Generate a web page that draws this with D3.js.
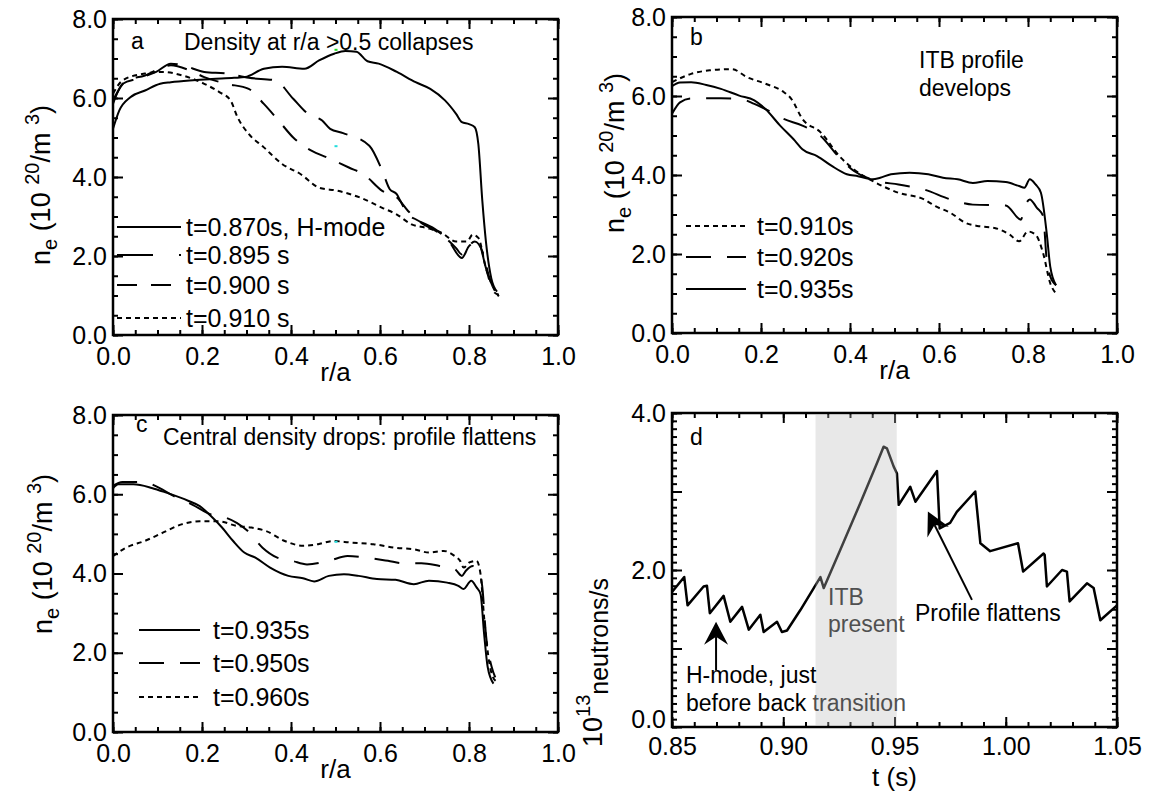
<!DOCTYPE html>
<html>
<head>
<meta charset="utf-8">
<script src="https://cdn.jsdelivr.net/npm/d3@7"></script>
<style>
  body { margin: 0; background: #fff; }
  svg text { font-family: "Liberation Sans", Arial, Helvetica, sans-serif; fill: #000; white-space: pre; }
</style>
</head>
<body>
<div id="fig"></div>
<script>
// ---- panel a : profiles around the back transition  [r/a, n_e]
const a870 = [[0,5.22],[0.014,5.68],[0.039,6.02],[0.072,6.19],[0.106,6.36],[0.13,6.40],[0.18,6.45],[0.222,6.48],[0.272,6.51],[0.297,6.53],[0.339,6.74],[0.38,6.79],[0.43,6.74],[0.463,6.95],[0.497,7.12],[0.522,7.19],[0.547,7.17],[0.572,6.93],[0.597,6.87],[0.638,6.66],[0.68,6.40],[0.713,6.23],[0.746,5.94],[0.771,5.60],[0.784,5.39],[0.80,5.34],[0.813,5.26],[0.821,4.83],[0.83,3.39],[0.838,2.37],[0.85,1.44],[0.863,1.10]];
const a895 = [[0,5.85],[0.022,6.36],[0.056,6.49],[0.097,6.66],[0.13,6.87],[0.156,6.83],[0.205,6.66],[0.255,6.62],[0.305,6.51],[0.364,6.45],[0.405,5.98],[0.438,5.60],[0.47,5.43],[0.488,5.22],[0.517,5.11],[0.576,4.79],[0.605,4.16],[0.622,3.69],[0.638,3.56],[0.646,3.39],[0.663,3.05],[0.68,2.93],[0.73,2.63],[0.755,2.37],[0.784,1.95],[0.80,2.25],[0.82,2.37],[0.838,1.70],[0.855,1.10],[0.867,1.02]];
const a900 = [[0,5.94],[0.031,6.45],[0.072,6.57],[0.114,6.79],[0.13,6.83],[0.172,6.70],[0.205,6.53],[0.255,6.36],[0.305,6.23],[0.339,5.85],[0.372,5.43],[0.405,5.00],[0.447,4.66],[0.48,4.50],[0.53,4.24],[0.563,4.07],[0.605,3.65],[0.638,3.48],[0.663,3.14],[0.688,2.88],[0.738,2.54],[0.771,2.20],[0.784,2.04],[0.796,2.20],[0.813,2.37],[0.83,2.12],[0.846,1.44],[0.863,1.02]];
const a910 = [[0,6.11],[0.022,6.45],[0.072,6.62],[0.114,6.66],[0.156,6.57],[0.205,6.36],[0.239,6.15],[0.264,5.94],[0.28,5.51],[0.305,5.09],[0.339,4.75],[0.38,4.33],[0.422,4.07],[0.463,3.73],[0.505,3.65],[0.555,3.48],[0.605,3.22],[0.638,3.05],[0.671,2.80],[0.705,2.71],[0.738,2.59],[0.771,2.37],[0.796,2.37],[0.808,2.54],[0.821,2.46],[0.838,1.70],[0.855,1.19],[0.867,0.98]];

// ---- panel b : ITB forms
const b910 = [[0,6.35],[0.043,6.56],[0.085,6.65],[0.135,6.68],[0.168,6.48],[0.21,6.31],[0.251,6.10],[0.268,5.93],[0.293,5.42],[0.334,5.08],[0.376,4.48],[0.409,4.14],[0.459,3.80],[0.509,3.55],[0.567,3.38],[0.592,3.21],[0.626,3.04],[0.659,2.79],[0.692,2.70],[0.725,2.66],[0.759,2.49],[0.78,2.32],[0.80,2.57],[0.817,2.49],[0.834,2.02],[0.85,1.26],[0.863,1.00]];
const b920 = [[0,5.55],[0.018,5.84],[0.043,5.94],[0.11,5.94],[0.151,5.93],[0.185,5.80],[0.21,5.67],[0.251,5.42],[0.293,5.25],[0.334,4.99],[0.376,4.44],[0.409,4.10],[0.459,3.85],[0.509,3.76],[0.567,3.63],[0.626,3.38],[0.676,3.25],[0.75,3.23],[0.784,2.87],[0.792,3.17],[0.804,3.38],[0.82,3.17],[0.834,2.96],[0.842,1.85],[0.85,1.43],[0.863,1.21]];
const b935 = [[0,6.25],[0.018,6.34],[0.043,6.35],[0.077,6.28],[0.11,6.18],[0.151,6.01],[0.185,5.89],[0.21,5.67],[0.243,5.25],[0.276,4.87],[0.293,4.65],[0.326,4.48],[0.359,4.23],[0.393,4.02],[0.418,3.97],[0.451,3.89],[0.468,3.93],[0.492,4.02],[0.534,4.06],[0.576,4.02],[0.609,3.93],[0.642,3.89],[0.676,3.80],[0.709,3.85],[0.75,3.82],[0.78,3.72],[0.792,3.68],[0.804,3.89],[0.817,3.76],[0.829,3.55],[0.842,2.53],[0.85,1.68],[0.863,1.21]];

// ---- panel c : profile flattens
const c935 = [[0,6.15],[0.012,6.25],[0.046,6.25],[0.087,6.16],[0.12,6.04],[0.17,5.83],[0.195,5.70],[0.22,5.45],[0.245,5.16],[0.27,4.82],[0.295,4.53],[0.32,4.40],[0.353,4.15],[0.394,3.94],[0.427,3.88],[0.452,3.80],[0.485,3.94],[0.519,3.98],[0.552,3.94],[0.593,3.86],[0.635,3.84],[0.676,3.73],[0.71,3.82],[0.751,3.77],[0.776,3.69],[0.788,3.61],[0.805,3.82],[0.817,3.65],[0.826,3.48],[0.834,2.47],[0.842,1.64],[0.855,1.22]];
const c950 = [[0,6.21],[0.021,6.31],[0.071,6.31],[0.095,6.21],[0.137,5.95],[0.178,5.74],[0.22,5.49],[0.253,5.41],[0.278,5.28],[0.303,5.07],[0.336,4.65],[0.369,4.40],[0.402,4.32],[0.436,4.23],[0.485,4.32],[0.527,4.44],[0.568,4.40],[0.618,4.32],[0.651,4.26],[0.693,4.26],[0.734,4.19],[0.768,4.11],[0.784,3.94],[0.793,4.07],[0.809,4.19],[0.822,4.07],[0.83,3.65],[0.838,2.47],[0.851,1.64],[0.859,1.38]];
const c960 = [[0,4.44],[0.029,4.65],[0.071,4.82],[0.112,5.03],[0.154,5.24],[0.195,5.32],[0.237,5.32],[0.278,5.20],[0.311,5.16],[0.344,5.07],[0.386,4.82],[0.427,4.70],[0.461,4.74],[0.494,4.82],[0.535,4.78],[0.585,4.74],[0.635,4.65],[0.676,4.61],[0.71,4.53],[0.743,4.57],[0.768,4.44],[0.78,4.32],[0.788,4.15],[0.801,4.28],[0.817,4.32],[0.826,3.98],[0.834,2.89],[0.846,1.72],[0.859,1.30],[0.867,1.26]];

// ---- panel d : neutron rate [t (s), 1e13 n/s]
const neutrons = [[0.85,1.72],[0.8555,1.91],[0.857,1.55],[0.8642,1.79],[0.8657,1.80],[0.867,1.45],[0.8732,1.67],[0.8762,1.34],[0.8815,1.53],[0.8845,1.24],[0.8897,1.43],[0.8912,1.21],[0.8972,1.34],[0.8994,1.21],[0.9017,1.23],[0.9077,1.49],[0.9137,1.77],[0.9167,1.91],[0.9182,1.77],[0.9257,2.26],[0.9346,2.85],[0.9421,3.36],[0.9451,3.57],[0.9466,3.55],[0.9496,3.32],[0.9511,3.23],[0.9519,2.83],[0.9571,3.06],[0.9594,2.87],[0.9691,3.26],[0.9703,2.53],[0.975,2.60],[0.978,2.74],[0.9863,3.00],[0.9886,2.34],[0.993,2.24],[1.0055,2.34],[1.0078,1.98],[1.017,2.21],[1.0175,2.19],[1.0185,1.79],[1.0253,2.00],[1.0275,1.98],[1.0287,1.60],[1.0365,1.83],[1.0395,1.77],[1.0425,1.36],[1.05,1.55]];
const itbWindow = [0.9145, 0.951];
const arrowHmode = [[0.8698, 0.72], [0.8698, 1.34]];
const arrowFlat = [[0.9848, 1.62], [0.965, 2.745]];

// ticks and labels
const profileXTicks = [0, 0.2, 0.4, 0.6, 0.8, 1.0];
const profileYTicks = [0, 2, 4, 6, 8];
const neutronXTicks = [0.85, 0.90, 0.95, 1.00, 1.05];
const neutronYTicks = [0, 1, 2, 3, 4];
const neutronYLabels = [0, 2, 4];

const legendA = ["t=0.870s, H-mode", "t=0.895 s", "t=0.900 s", "t=0.910 s"];
const legendB = ["t=0.910s", "t=0.920s", "t=0.935s"];
const legendC = ["t=0.935s", "t=0.950s", "t=0.960s"];

// stray coloured pixels in the original
const dotsA = [[0.5, 7.22], [0.5, 4.78]];
const dotsC = [[0.5, 4.80]];

const W = 1162, H = 799;
const svg = d3.select("#fig").append("svg")
    .attr("width", W)
    .attr("height", H);

const SOLID = null, LONG = "25,16", MED = "20,14", DOT = "5,4";

function frame(box, xDom, yDom, xMaj, xMin, yMaj, yMin, xFmt, yFmt) {
    const x = d3.scaleLinear().domain(xDom).range([box.left, box.right]);
    const y = d3.scaleLinear().domain(yDom).range([box.bottom, box.top]);
    const g = svg.append("g");

    const ax = (axis, vals, size, tr, fmt, pad) => {
        const a = g.append("g")
            .attr("transform", tr)
            .call(axis.tickValues(vals).tickSize(size).tickPadding(pad || 3).tickFormat(fmt || ""));
        a.select(".domain").remove();
        a.selectAll("line").attr("stroke", "#000").attr("stroke-width", 2);
        a.attr("font-size", 25);
        return a;
    };
    // minor
    ax(d3.axisBottom(x), xMin, -5, `translate(0,${box.bottom})`);
    ax(d3.axisTop(x), xMin, -5, `translate(0,${box.top})`);
    ax(d3.axisLeft(y), yMin, -5, `translate(${box.left},0)`);
    ax(d3.axisRight(y), yMin, -5, `translate(${box.right},0)`);
    // major
    ax(d3.axisBottom(x), xMaj, -10, `translate(0,${box.bottom})`, xFmt, box.xPad || 12);
    ax(d3.axisTop(x), xMaj, -10, `translate(0,${box.top})`);
    const left = ax(d3.axisLeft(y), yMaj, -10, `translate(${box.left},0)`, yFmt, 6);
    ax(d3.axisRight(y), yMaj, -10, `translate(${box.right},0)`);

    g.append("rect")
        .attr("x", box.left).attr("y", box.top)
        .attr("width", box.right - box.left).attr("height", box.bottom - box.top)
        .attr("fill", "none").attr("stroke", "#000").attr("stroke-width", 2.5);
    return { x, y, left };
}

function curves(sc, series) {
    const line = d3.line().x(d => sc.x(d[0])).y(d => sc.y(d[1])).curve(d3.curveMonotoneX);
    svg.append("g")
        .selectAll("path")
        .data(series)
        .join("path")
        .attr("d", d => line(d.data))
        .attr("fill", "none")
        .attr("stroke", "#000")
        .attr("stroke-width", 2)
        .attr("stroke-dasharray", d => d.dash);
}

function legend(names, dashes, rows, x1, x2, tx) {
    const g = svg.append("g");
    names.forEach((n, i) => {
        g.append("line")
            .attr("x1", x1).attr("x2", x2).attr("y1", rows[i]).attr("y2", rows[i])
            .attr("stroke", "#000").attr("stroke-width", 2)
            .attr("stroke-dasharray", dashes[i]);
        g.append("text")
            .attr("x", tx).attr("y", rows[i] + 9)
            .attr("font-size", 25)
            .text(n);
    });
}

function note(x, y, str, size, color) {
    return svg.append("text")
        .attr("x", x).attr("y", y)
        .attr("font-size", size || 23)
        .style("fill", color || "#000")
        .text(str);
}

function neLabel(cx, cy) {
    const t = svg.append("text")
        .attr("transform", `translate(${cx},${cy}) rotate(-90)`)
        .attr("text-anchor", "middle")
        .attr("font-size", 27);
    t.append("tspan").text("n");
    t.append("tspan").attr("font-size", 20).attr("dy", 7).text("e");
    t.append("tspan").attr("dy", -7).text(" (10 ");
    t.append("tspan").attr("font-size", 20).attr("dy", -11).text("20");
    t.append("tspan").attr("dy", 11).text("/m ");
    t.append("tspan").attr("font-size", 20).attr("dy", -11).text("3");
    t.append("tspan").attr("dy", 11).text(")");
}

function dots(sc, pts, colors) {
    svg.append("g").selectAll("rect").data(pts).join("rect")
        .attr("x", d => sc.x(d[0]) - 1).attr("y", d => sc.y(d[1]) - 1)
        .attr("width", 3).attr("height", 2)
        .attr("fill", (d, i) => colors[i]);
}

const fmt1 = d3.format(".1f"), fmt2 = d3.format(".2f");
const profXMinor = d3.range(0, 1.0001, 0.05);
const profYMinor = d3.range(0, 8.0001, 0.5);

// ---------- a
const boxA = { left: 113, right: 558, top: 19, bottom: 335 };
const sa = frame(boxA, [0, 1], [0, 8], profileXTicks, profXMinor, profileYTicks, profYMinor, fmt1, fmt1);
curves(sa, [
    { data: a910, dash: DOT },
    { data: a900, dash: MED },
    { data: a895, dash: "34,14" },
    { data: a870, dash: SOLID }
]);
dots(sa, dotsA, ["#22dd22", "#22dddd"]);
legend(legendA, [SOLID, "36,26,3,100", MED, DOT], [227, 255, 285, 318], 117, 181, 186);
note(131, 49, "a");
note(184, 50, "Density at r/a >0.5 collapses");
svg.append("text").attr("x", (boxA.left + boxA.right) / 2).attr("y", boxA.bottom + 46)
    .attr("text-anchor", "middle").attr("font-size", 26).text("r/a");
neLabel(50, 185);

// ---------- b
const boxB = { left: 672, right: 1117, top: 17, bottom: 333 };
const sb = frame(boxB, [0, 1], [0, 8], profileXTicks, profXMinor, profileYTicks, profYMinor, fmt1, fmt1);
curves(sb, [
    { data: b910, dash: DOT },
    { data: b920, dash: LONG },
    { data: b935, dash: SOLID }
]);
legend(legendB, [DOT, LONG, SOLID], [226, 257, 289], 686, 746, 757);
note(690, 45, "b");
note(919, 68, "ITB profile");
note(919, 96, "develops");
svg.append("text").attr("x", (boxB.left + boxB.right) / 2).attr("y", boxB.bottom + 46)
    .attr("text-anchor", "middle").attr("font-size", 26).text("r/a");
neLabel(624, 153);

// ---------- c
const boxC = { left: 113, right: 558, top: 415, bottom: 732 };
const scc = frame(boxC, [0, 1], [0, 8], profileXTicks, profXMinor, profileYTicks, profYMinor, fmt1, fmt1);
curves(scc, [
    { data: c960, dash: DOT },
    { data: c950, dash: LONG },
    { data: c935, dash: SOLID }
]);
dots(scc, dotsC, ["#22dddd"]);
legend(legendC, [SOLID, LONG, DOT], [630, 663, 697], 139, 200, 213);
note(136, 432, "c");
note(163, 445, "Central density drops: profile flattens");
svg.append("text").attr("x", (boxC.left + boxC.right) / 2).attr("y", boxC.bottom + 46)
    .attr("text-anchor", "middle").attr("font-size", 26).text("r/a");
neLabel(52, 554);

// ---------- d
const boxD = { left: 672, right: 1117, top: 413, bottom: 727, xPad: 10 };
const sd = frame(boxD, [0.85, 1.05], [0, 4], neutronXTicks, d3.range(0.85, 1.0501, 0.01),
    neutronYTicks, d3.range(0, 4.0001, 0.1), fmt2, d => neutronYLabels.includes(d) ? fmt1(d) : "");
sd.left.selectAll("text").filter(d => d === 0).attr("dy", "0.0em");

const nLine = d3.line().x(d => sd.x(d[0])).y(d => sd.y(d[1]));
svg.append("path")
    .attr("d", nLine(neutrons))
    .attr("fill", "none")
    .attr("stroke", "#000")
    .attr("stroke-width", 2.5)
    .attr("stroke-linejoin", "round");

svg.append("rect")
    .attr("x", sd.x(itbWindow[0])).attr("y", boxD.top + 1.5)
    .attr("width", sd.x(itbWindow[1]) - sd.x(itbWindow[0]))
    .attr("height", boxD.bottom - boxD.top - 3)
    .attr("fill", "#bcbcbc").attr("fill-opacity", 0.34);

function arrow(pts) {
    const [x1, y1] = [sd.x(pts[0][0]), sd.y(pts[0][1])];
    const [x2, y2] = [sd.x(pts[1][0]), sd.y(pts[1][1])];
    const ang = Math.atan2(y2 - y1, x2 - x1);
    const L = 23, w = 12, notch = 15;
    const ux = Math.cos(ang), uy = Math.sin(ang);
    const bx = x2 - ux * L, by = y2 - uy * L;
    const nx = x2 - ux * notch, ny = y2 - uy * notch;
    svg.append("line").attr("x1", x1).attr("y1", y1).attr("x2", nx).attr("y2", ny)
        .attr("stroke", "#000").attr("stroke-width", 2);
    svg.append("path")
        .attr("d", `M${x2},${y2}L${bx - uy * w},${by + ux * w}L${nx},${ny}L${bx + uy * w},${by - ux * w}Z`)
        .attr("fill", "#000");
}
arrow(arrowHmode);
arrow(arrowFlat);

note(690, 445, "d");
note(828, 605, "ITB", 23, "#505050");
note(828, 632, "present", 23, "#505050");
note(686, 683, "H-mode, just");
const bt = note(686, 711, "before back ");
bt.append("tspan").style("fill", "#505050").text("transition");
note(915, 621, "Profile flattens");
svg.append("text").attr("x", (boxD.left + boxD.right) / 2).attr("y", boxD.bottom + 59)
    .attr("text-anchor", "middle").attr("font-size", 26).text("t (s)");

const nl = svg.append("text")
    .attr("transform", "translate(602,747) rotate(-90)")
    .attr("font-size", 27);
nl.append("tspan").text("10");
nl.append("tspan").attr("font-size", 20).attr("dy", -12).text("13");
nl.append("tspan").attr("font-size", 25).attr("dy", 18).text("neutrons/s");
</script>
</body>
</html>
